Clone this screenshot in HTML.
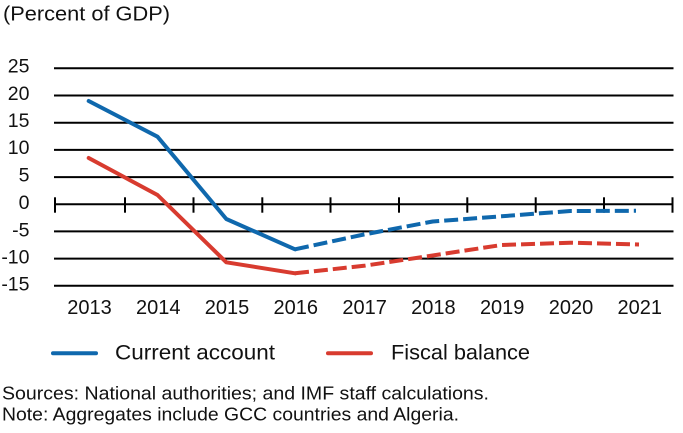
<!DOCTYPE html>
<html><head><meta charset="utf-8"><style>
html,body{margin:0;padding:0;background:#fff;}
svg{display:block;}
text{font-family:"Liberation Sans",Arial,sans-serif;fill:#111;}
</style></head><body>
<svg width="683" height="433" viewBox="0 0 683 433" xmlns="http://www.w3.org/2000/svg">
<text x="3" y="20.5" font-size="20" textLength="167" lengthAdjust="spacingAndGlyphs">(Percent of GDP)</text>
<g stroke="#000" stroke-width="2">
<line x1="54" y1="68.3" x2="673.5" y2="68.3"/>
<line x1="54" y1="95.5" x2="673.5" y2="95.5"/>
<line x1="54" y1="122.7" x2="673.5" y2="122.7"/>
<line x1="54" y1="149.9" x2="673.5" y2="149.9"/>
<line x1="54" y1="177.1" x2="673.5" y2="177.1"/>
<line x1="54" y1="204.2" x2="673.5" y2="204.2"/>
<line x1="54" y1="231.4" x2="673.5" y2="231.4"/>
<line x1="54" y1="258.6" x2="673.5" y2="258.6"/>
<line x1="54" y1="285.7" x2="673.5" y2="285.7"/>
<line x1="55" y1="197.3" x2="55" y2="212.7"/>
<line x1="125" y1="197.3" x2="125" y2="212.7"/>
<line x1="193.5" y1="197.3" x2="193.5" y2="212.7"/>
<line x1="262.3" y1="197.3" x2="262.3" y2="212.7"/>
<line x1="330.5" y1="197.3" x2="330.5" y2="212.7"/>
<line x1="399" y1="197.3" x2="399" y2="212.7"/>
<line x1="467.3" y1="197.3" x2="467.3" y2="212.7"/>
<line x1="535.7" y1="197.3" x2="535.7" y2="212.7"/>
<line x1="604" y1="197.3" x2="604" y2="212.7"/>
<line x1="672.5" y1="197.3" x2="672.5" y2="212.7"/>
</g>
<g font-size="19.5" text-anchor="end">
<text x="29.5" y="72.3">25</text>
<text x="29.5" y="99.8">20</text>
<text x="29.5" y="127">15</text>
<text x="29.5" y="154.2">10</text>
<text x="29.5" y="181.6">5</text>
<text x="29.5" y="209">0</text>
<text x="29.5" y="236.3">-5</text>
<text x="29.5" y="263.6">-10</text>
<text x="29.5" y="290.5">-15</text>
</g>
<g font-size="20" text-anchor="middle">
<text x="89.5" y="314">2013</text>
<text x="158.3" y="314">2014</text>
<text x="227" y="314">2015</text>
<text x="295.8" y="314">2016</text>
<text x="364.6" y="314">2017</text>
<text x="433.4" y="314">2018</text>
<text x="502.2" y="314">2019</text>
<text x="571" y="314">2020</text>
<text x="639.8" y="314">2021</text>
</g>
<g fill="none" stroke-width="4" stroke-linejoin="round">
<polyline stroke="#0f68ad" stroke-linecap="round" points="88.7,101 157.5,136.7 226.3,219 295,249.3"/>
<polyline stroke="#0f68ad" stroke-dasharray="14,5" points="295,249.3 363.9,234.5 432.7,221.5 501.5,216.3 570.3,211 636,210.8"/>
<polyline stroke="#d83b2f" stroke-linecap="round" points="88.7,158 157.5,195 226.3,262.3 295,273.3"/>
<polyline stroke="#d83b2f" stroke-dasharray="14,5" points="295,273.3 363.9,265.8 432.7,255.5 501.5,245 570.3,242.7 639,244.5"/>
</g>
<line x1="53" y1="353.3" x2="96" y2="353.3" stroke="#0f68ad" stroke-width="4" stroke-linecap="round"/>
<text x="115" y="359.3" font-size="21" textLength="160" lengthAdjust="spacingAndGlyphs">Current account</text>
<line x1="328" y1="353.3" x2="371" y2="353.3" stroke="#d83b2f" stroke-width="4" stroke-linecap="round"/>
<text x="391" y="359.3" font-size="21" textLength="139" lengthAdjust="spacingAndGlyphs">Fiscal balance</text>
<text x="2" y="399.3" font-size="18.5" textLength="487" lengthAdjust="spacingAndGlyphs">Sources: National authorities; and IMF staff calculations.</text>
<text x="2" y="420.7" font-size="18.5" textLength="457" lengthAdjust="spacingAndGlyphs">Note: Aggregates include GCC countries and Algeria.</text>
</svg>
</body></html>
